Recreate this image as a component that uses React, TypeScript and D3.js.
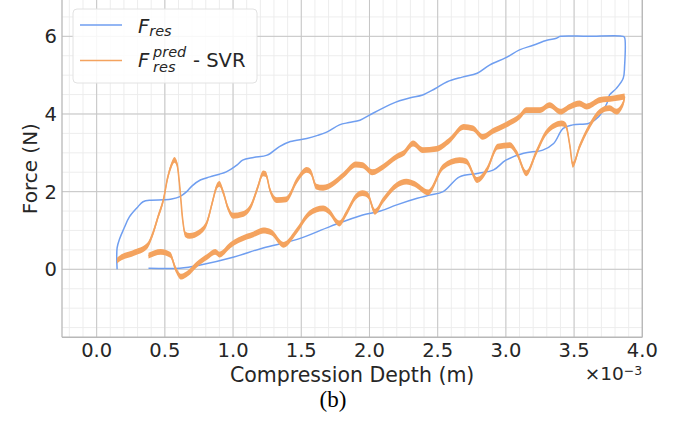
import React from "react";
import * as d3 from "d3";

// ---- data (x in 1e-3 m, y in N) ----
const blueX = [0.15, 0.15, 0.17, 0.2, 0.24, 0.3, 0.34, 0.4, 0.49, 0.55, 0.61, 0.66, 0.7, 0.76, 0.83, 0.9, 0.95, 1.03, 1.07, 1.15, 1.25, 1.34, 1.42, 1.54, 1.62, 1.69, 1.78, 1.85, 1.93, 2.0, 2.08, 2.15, 2.22, 2.3, 2.39, 2.48, 2.57, 2.68, 2.79, 2.88, 3.0, 3.1, 3.2, 3.3, 3.37, 3.4, 3.6, 3.86, 3.87,
  3.87, 3.86, 3.81, 3.76, 3.74, 3.68, 3.61, 3.49, 3.42, 3.35, 3.27, 3.13, 3.0, 2.91, 2.79, 2.66, 2.54, 2.44, 2.35, 2.2, 2.08, 1.95, 1.71, 1.47, 1.22, 1.0, 0.76, 0.61, 0.38];
const blueY = [0, 0.55, 0.8, 1.05, 1.35, 1.6, 1.74, 1.78, 1.79, 1.81, 1.87, 2.0, 2.15, 2.3, 2.38, 2.45, 2.51, 2.69, 2.81, 2.88, 2.94, 3.16, 3.29, 3.37, 3.45, 3.54, 3.72, 3.78, 3.84, 3.97, 4.12, 4.24, 4.34, 4.42, 4.49, 4.65, 4.83, 4.95, 5.05, 5.26, 5.45, 5.65, 5.77, 5.9, 5.95, 6.0, 6.0, 6.0, 5.97,
  5.22, 4.92, 4.66, 4.49, 4.27, 3.93, 3.76, 3.72, 3.63, 3.24, 3.07, 2.99, 2.81, 2.56, 2.47, 2.38, 2.0, 1.91, 1.83, 1.66, 1.5, 1.4, 1.1, 0.77, 0.55, 0.31, 0.11, 0.03, 0.03];

const predUpX = [0.15, 0.17, 0.27, 0.37, 0.41, 0.45, 0.49, 0.52, 0.55, 0.57, 0.59, 0.61, 0.63, 0.65, 0.68, 0.76, 0.81, 0.85, 0.88, 0.9, 0.93, 0.96, 1.0, 1.07, 1.13, 1.18, 1.22, 1.24, 1.27, 1.32, 1.39, 1.47, 1.54, 1.57, 1.61, 1.66, 1.73, 1.81, 1.9, 1.95, 2.02, 2.1, 2.2, 2.25, 2.32, 2.39, 2.49, 2.59, 2.69, 2.76, 2.83, 2.91, 3.0, 3.1, 3.15, 3.25, 3.32, 3.4, 3.47, 3.54, 3.59, 3.69, 3.79, 3.87];
const predUpY = [0.22, 0.28, 0.42, 0.6, 0.9, 1.35, 1.8, 2.35, 2.7, 2.82, 2.7, 2.1, 1.3, 0.9, 0.86, 0.97, 1.22, 1.75, 2.13, 2.2, 1.96, 1.6, 1.38, 1.42, 1.62, 2.1, 2.47, 2.45, 2.05, 1.78, 1.8, 2.3, 2.56, 2.5, 2.13, 2.1, 2.2, 2.43, 2.7, 2.68, 2.5, 2.64, 2.9, 2.99, 3.24, 3.07, 3.1, 3.33, 3.67, 3.63, 3.41, 3.57, 3.72, 3.93, 4.1, 4.1, 4.23, 4.06, 4.19, 4.27, 4.19, 4.36, 4.4, 4.45];

const predLoX = [0.38, 0.47, 0.54, 0.58, 0.62, 0.67, 0.73, 0.81, 0.87, 0.9, 0.98, 1.1, 1.15, 1.22, 1.28, 1.37, 1.47, 1.56, 1.66, 1.7, 1.78, 1.83, 1.9, 1.95, 1.99, 2.04, 2.1, 2.2, 2.27, 2.33, 2.43, 2.54, 2.66, 2.71, 2.79, 2.86, 2.94, 3.03, 3.08, 3.15, 3.22, 3.3, 3.41, 3.44, 3.47, 3.49, 3.54, 3.61, 3.69, 3.76, 3.81, 3.86, 3.87];
const predLoY = [0.35, 0.45, 0.37, 0.0, -0.19, -0.1, 0.11, 0.32, 0.45, 0.38, 0.62, 0.84, 0.9, 1.0, 0.95, 0.63, 1.01, 1.44, 1.57, 1.5, 1.18, 1.44, 1.87, 1.96, 1.9, 1.48, 1.78, 2.17, 2.26, 2.2, 1.98, 2.64, 2.81, 2.78, 2.3, 2.56, 3.16, 3.2, 2.99, 2.47, 2.99, 3.54, 3.76, 3.7, 3.16, 2.69, 3.16, 3.67, 4.06, 4.15, 4.06, 4.27, 4.45];

const xTicks = [0, 0.5, 1.0, 1.5, 2.0, 2.5, 3.0, 3.5, 4.0];
const yTicks = [0, 2, 4, 6];

const BLUE = "#6f9ef0";
const ORANGE = "#f4a35f";
const TXT = "#262626";

export default function App() {
  const W = 679, H = 421;
  const x = d3.scaleLinear().domain([-0.254, 4.0]).range([62, 642.3]);
  const y = d3.scaleLinear().domain([-1.75, 7]).range([337.25, -2.5]);
  const left = x.range()[0], right = x.range()[1];
  const bottom = y.range()[0], top = 0;

  const xMinor = d3.range(-2, 41).map((i) => i / 10).filter((v) => v > -0.254 && v < 4.0);
  const yMinor = d3.range(-3, 15).map((i) => i / 2);

  const line = d3.line<[number, number]>().x((d) => x(d[0])).y((d) => y(d[1])).curve(d3.curveCatmullRom.alpha(0.5));
  const zip = (a: number[], b: number[]) => a.map((v, i) => [v, b[i]] as [number, number]);
  const band = d3
    .area<[number, number]>()
    .x((d) => x(d[0]))
    .y0((d) => y(d[1] - 0.075))
    .y1((d) => y(d[1] + 0.075))
    .curve(d3.curveMonotoneX);
  const oLine = d3.line<[number, number]>().x((d) => x(d[0])).y((d) => y(d[1])).curve(d3.curveMonotoneX);

  const up = zip(predUpX, predUpY);
  const lo = zip(predLoX, predLoY);
  const bl = zip(blueX, blueY);

  return (
    <svg width={W} height={H} style={{ position: "absolute", left: 0, top: 0, background: "#fff" }}
      fontFamily="'DejaVu Sans', sans-serif">
      <defs>
        <clipPath id="plot">
          <rect x={left} y={top} width={right - left} height={bottom - top} />
        </clipPath>
      </defs>
      {/* grid */}
      <g>
        {xMinor.map((v) => (
          <line key={"xm" + v} x1={x(v)} x2={x(v)} y1={top} y2={bottom} stroke="#ebebeb" strokeWidth={0.9} />
        ))}
        {yMinor.map((v) => (
          <line key={"ym" + v} x1={left} x2={right} y1={y(v)} y2={y(v)} stroke="#ebebeb" strokeWidth={0.9} />
        ))}
        {xTicks.map((v) => (
          <line key={"xg" + v} x1={x(v)} x2={x(v)} y1={top} y2={bottom} stroke="#c6c6c6" strokeWidth={1} />
        ))}
        {yTicks.map((v) => (
          <line key={"yg" + v} x1={left} x2={right} y1={y(v)} y2={y(v)} stroke="#c6c6c6" strokeWidth={1} />
        ))}
      </g>
      {/* data */}
      <g clipPath="url(#plot)">
        <path d={line(bl) || ""} fill="none" stroke={BLUE} strokeWidth={1.5} strokeLinejoin="round" />
        <path d={band(up) || ""} fill={ORANGE} />
        <path d={oLine(up) || ""} fill="none" stroke={ORANGE} strokeWidth={1.6} />
        <path d={band(lo) || ""} fill={ORANGE} />
        <path d={oLine(lo) || ""} fill="none" stroke={ORANGE} strokeWidth={1.6} />
      </g>
      {/* spines */}
      <line x1={left} x2={left} y1={top} y2={bottom} stroke="#b8b8b8" strokeWidth={1.3} />
      <line x1={right} x2={right} y1={top} y2={bottom} stroke="#b8b8b8" strokeWidth={1.3} />
      <line x1={left} x2={right} y1={bottom} y2={bottom} stroke="#b8b8b8" strokeWidth={1.3} />
      {/* tick labels */}
      {xTicks.map((v) => (
        <text key={"xt" + v} x={x(v)} y={357} textAnchor="middle" fontSize={19.5} fill={TXT}>
          {v.toFixed(1)}
        </text>
      ))}
      {yTicks.map((v) => (
        <text key={"yt" + v} x={57} y={y(v)} dy="0.36em" textAnchor="end" fontSize={19.5} fill={TXT}>
          {v}
        </text>
      ))}
      <text x={(left + right) / 2} y={382} textAnchor="middle" fontSize={20.5} fill={TXT}>
        Compression Depth (m)
      </text>
      <text x={right} y={380} textAnchor="end" fontSize={18.5} fill={TXT}>
        ×10<tspan fontSize={12.5} dy={-5.5}>−3</tspan>
      </text>
      <text transform={`translate(37,${(top + bottom) / 2}) rotate(-90)`} textAnchor="middle" fontSize={20} fill={TXT}>
        Force (N)
      </text>
      {/* legend */}
      <g>
        <rect x={73} y={9} width={184} height={74} rx={4} fill="#ffffff" fillOpacity={0.85} stroke="#e2e2e2" strokeWidth={1} />
        <line x1={80} x2={122} y1={25} y2={25} stroke={BLUE} strokeWidth={1.5} />
        <line x1={80} x2={122} y1={60.5} y2={60.5} stroke={ORANGE} strokeWidth={1.5} />
        <text x={138} y={33} fontSize={19.5} fill={TXT} fontStyle="italic">
          F<tspan fontSize={14.5} dy={3}>res</tspan>
        </text>
        <text x={138} y={66.5} fontSize={19.5} fill={TXT} fontStyle="italic">F</text>
        <text x={153} y={57} fontSize={14.5} fill={TXT} fontStyle="italic">pred</text>
        <text x={153} y={71.5} fontSize={14.5} fill={TXT} fontStyle="italic">res</text>
        <text x={193} y={66.5} fontSize={19.5} fill={TXT}>- SVR</text>
      </g>
      <text x={333} y={407} textAnchor="middle" fontSize={23} fill="#000" fontFamily="'Liberation Serif', serif">
        (b)
      </text>
    </svg>
  );
}
